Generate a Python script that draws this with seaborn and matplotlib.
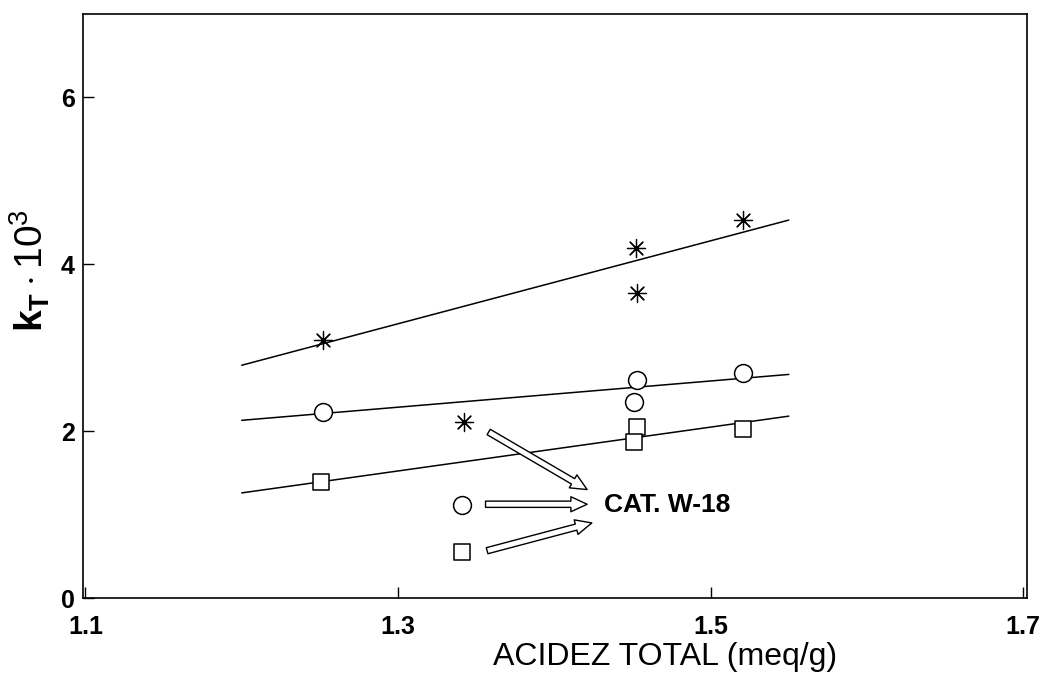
import matplotlib
matplotlib.use("Agg")
import matplotlib.pyplot as plt
import seaborn as sns
import pandas as pd

# ---- data ----
fit_x = [1.20, 1.55]
star_fit = [2.79, 4.53]
circle_fit = [2.13, 2.68]
square_fit = [1.26, 2.18]

star_x = [1.252, 1.452, 1.453, 1.521]
star_y = [3.09, 4.19, 3.66, 4.53]
circle_x = [1.252, 1.453, 1.451, 1.521]
circle_y = [2.23, 2.61, 2.35, 2.70]
square_x = [1.251, 1.453, 1.451, 1.521]
square_y = [1.39, 2.05, 1.87, 2.02]

w18_x = [1.342, 1.341, 1.341]
w18_y = [2.11, 1.115, 0.555]  # star, circle, square
w18_label = "CAT. W-18"

x_ticks = [1.1, 1.3, 1.5, 1.7]
x_ticklabels = ["1.1", "1.3", "1.5", "1.7"]
y_ticks = [0, 2, 4, 6]
y_ticklabels = ["0", "2", "4", "6"]

# ---- style ----
sns.set_theme(style="ticks")
plt.rcParams["font.family"] = ["Liberation Sans", "DejaVu Sans"]
plt.rcParams["text.color"] = "black"
plt.rcParams["axes.labelcolor"] = "black"
plt.rcParams["xtick.color"] = "black"
plt.rcParams["ytick.color"] = "black"
plt.rcParams["mathtext.fontset"] = "custom"
plt.rcParams["mathtext.rm"] = "Liberation Sans"
plt.rcParams["mathtext.bf"] = "Liberation Sans:bold"
plt.rcParams["mathtext.it"] = "Liberation Sans:italic"

fig = plt.figure(figsize=(10.46, 6.90), dpi=100)
ax = fig.add_axes([0.0794, 0.1333, 0.9024, 0.8464])

# fit lines
for fy in (star_fit, circle_fit, square_fit):
    sns.lineplot(x=fit_x, y=fy, ax=ax, color="black", linewidth=1.1, legend=False)

# points
sx = star_x + [w18_x[0]]
sy = star_y + [w18_y[0]]
sns.scatterplot(x=sx, y=sy, ax=ax, marker=(8, 2, 0), s=170, color="black",
                linewidth=0.9, legend=False)
sns.scatterplot(x=sx, y=sy, ax=ax, marker="o", s=12, color="black",
                linewidth=0, legend=False)
sns.scatterplot(x=circle_x + [w18_x[1]], y=circle_y + [w18_y[1]], ax=ax,
                marker="o", s=165, facecolor="white", edgecolor="black",
                linewidth=1.1, legend=False, zorder=3)
sns.scatterplot(x=square_x + [w18_x[2]], y=square_y + [w18_y[2]], ax=ax,
                marker="s", s=130, facecolor="white", edgecolor="black",
                linewidth=1.1, legend=False, zorder=3)

# hollow arrows to label
arrow_starts = [(1.358, 1.99), (1.356, 1.124), (1.357, 0.567)]
arrow_ends = [(1.421, 1.30), (1.421, 1.124), (1.424, 0.90)]
for (x0, y0), (x1, y1) in zip(arrow_starts, arrow_ends):
    ax.annotate("", xy=(x1, y1), xytext=(x0, y0),
                arrowprops=dict(arrowstyle="simple,head_length=0.65,head_width=0.6,tail_width=0.25",
                                fc="white", ec="black", lw=1.0,
                                shrinkA=0, shrinkB=0, mutation_scale=18))
ax.text(1.432, 1.12, w18_label, fontsize=19, fontweight="bold",
        va="center", ha="left", color="black")

# axes
ax.set_xlim(1.0985, 1.7024)
ax.set_ylim(0, 7)
ax.set_xticks(x_ticks)
ax.set_xticklabels(x_ticklabels, fontsize=18, fontweight="bold")
ax.set_yticks(y_ticks)
ax.set_yticklabels(y_ticklabels, fontsize=18, fontweight="bold")
ax.tick_params(axis="x", direction="in", length=8, width=1, pad=12, colors="black")
ax.tick_params(axis="y", direction="in", length=8, width=1, pad=6, colors="black")
for sp in ax.spines.values():
    sp.set_visible(True)
    sp.set_color("black")
    sp.set_linewidth(1.2)

ax.set_xlabel("ACIDEZ TOTAL (meq/g)", fontsize=23, color="black")
ax.xaxis.set_label_coords(0.617, -0.075)
ax.set_ylabel(r"$\mathbf{k}_{\mathbf{T}}\cdot\mathrm{10}^{\mathrm{3}}$", fontsize=28,
              color="black")
ax.yaxis.set_label_coords(-0.033, 0.56)

fig.savefig("out.png", dpi=100, facecolor="white")
